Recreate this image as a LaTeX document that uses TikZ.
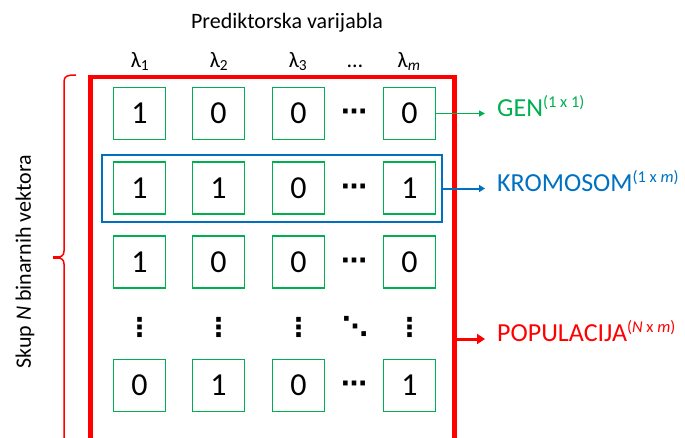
\documentclass[tikz,border=0pt]{standalone}
\usepackage{fontspec}
\setmainfont{Carlito}
\newfontfamily\dotsfont{DejaVu Sans}
\usetikzlibrary{arrows.meta}
\definecolor{gengreen}{RGB}{0,176,80}
\definecolor{kromblue}{RGB}{0,112,192}
\definecolor{popred}{RGB}{255,0,0}
\newcommand{\dimsup}[1]{\raisebox{9pt}{\fontsize{16.5}{18}\selectfont #1}}
\tikzset{
  bit/.style={draw=gengreen, line width=1.5pt, minimum width=52pt, minimum height=52pt, inner sep=0pt, font=\fontsize{32}{36}\selectfont},
  gap/.style={inner sep=0pt, font=\dotsfont\bfseries\fontsize{26}{28}\selectfont},
  lam/.style={anchor=base, inner sep=0pt, font=\fontsize{22}{26}\selectfont},
  tag/.style={anchor=mid west, inner xsep=12pt, inner ysep=0pt, font=\fontsize{26}{30}\selectfont},
}

\begin{document}
\begin{tikzpicture}[x=1pt, y=-1pt]
\useasboundingbox (0,0) rectangle (685,437);
\clip (0,0) rectangle (685,437);
% heading
\node at (287,28) [anchor=base, inner sep=0pt, font=\fontsize{22}{26}\selectfont] (title) {Prediktorska varijabla};
\node at (140,67) [lam] (l1) {λ\textsubscript{1}};
\node at (219,67) [lam] (l2) {λ\textsubscript{2}};
\node at (298,67) [lam] (l3) {λ\textsubscript{3}};
\node at (355,67) [lam] (ld) {\ldots};
\node at (409,67) [lam] (lm) {λ\textsubscript{\itshape m}};
% population, open at the bottom
\node at (272.5,270) [draw=popred, line width=4.5pt, minimum width=364pt, minimum height=386pt] (pop) {};
\node at (272,188.5) [draw=kromblue, line width=2.5pt, minimum width=340pt, minimum height=67pt] (krom) {};
% genes
\node at (139.5,113.5) [bit] (b11) {1};
\node at (218.5,113.5) [bit] (b12) {0};
\node at (298.5,113.5) [bit] (b13) {0};
\node at (354,115) [gap] (b14) {⋯};
\node at (409.5,113.5) [bit] (b15) {0};
\node at (139.5,188) [bit] (b21) {1};
\node at (218.5,188) [bit] (b22) {1};
\node at (298.5,188) [bit] (b23) {0};
\node at (354,189.5) [gap] (b24) {⋯};
\node at (409.5,188) [bit] (b25) {1};
\node at (139.5,262) [bit] (b31) {1};
\node at (218.5,262) [bit] (b32) {0};
\node at (298.5,262) [bit] (b33) {0};
\node at (354,263.5) [gap] (b34) {⋯};
\node at (409.5,262) [bit] (b35) {0};
\node at (139.5,327) [gap] (b41) {⋮};
\node at (218.5,327) [gap] (b42) {⋮};
\node at (298.5,327) [gap] (b43) {⋮};
\node at (355,326) [gap] (b44) {⋱};
\node at (409.5,327) [gap] (b45) {⋮};
\node at (139.5,385.5) [bit] (b51) {0};
\node at (218.5,385.5) [bit] (b52) {1};
\node at (298.5,385.5) [bit] (b53) {0};
\node at (354,387) [gap] (b54) {⋯};
\node at (409.5,385.5) [bit] (b55) {1};
% labels on the right
\node at (485,114) [tag, text=gengreen] (gen) {GEN\dimsup{(1 x 1)}};
\node at (485,189) [tag, text=kromblue] (kromlab) {KROMOSOM\dimsup{(1 x \textit{m})}};
\node at (485,339) [tag, text=popred] (poplab) {POPULACIJA\dimsup{(\textit{N} x \textit{m})}};
\draw[gengreen, line width=1.5pt, -{Triangle[length=6pt, width=6pt]}] (b15) -- (b15 -| gen.mid west);
\draw[kromblue, line width=2pt, -{Triangle[length=6pt, width=7pt]}] (krom) -- (krom -| kromlab.mid west);
\draw[popred, line width=3pt, -{Triangle[length=8pt, width=10pt]}] (pop.east |- poplab.mid west) -- (poplab.mid west);
% brace and its label
\draw[popred, line width=1.5pt] (76,75) .. controls (67,75) and (64,76) .. (64,82) -- (64,251) .. controls (64,255) and (62,257.5) .. (55,257.5) .. controls (62,257.5) and (64,260) .. (64,264) -- (64,445);
\draw[popred, line width=3pt] (53,257.5) -- (61,257.5);
\node at (25,262) [rotate=90, font=\fontsize{22}{26}\selectfont] (skup) {Skup \textit{N} binarnih vektora};
\end{tikzpicture}
\end{document}
